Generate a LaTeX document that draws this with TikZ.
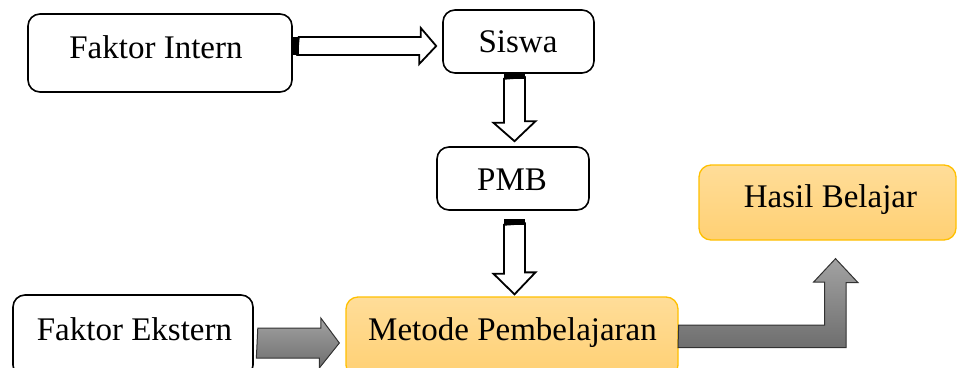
\documentclass[tikz,border=0pt]{standalone}
\usepackage{fontspec}
\setmainfont{Liberation Serif}
\usetikzlibrary{calc}
\definecolor{boxorange}{RGB}{255,192,0}
\definecolor{orangetop}{RGB}{255,221,153}
\definecolor{orangebot}{RGB}{255,208,115}
\definecolor{greytop}{RGB}{162,162,162}
\definecolor{greybot}{RGB}{110,110,110}
\definecolor{greyedge}{RGB}{50,50,50}

\begin{document}
\begin{tikzpicture}[x=1pt,y=-1pt,
  plainbox/.style={draw=black, line width=1.6pt, rounded corners=12pt, fill=white, inner sep=0pt},
  goldbox/.style={draw=boxorange, line width=1.3pt, rounded corners=12pt, top color=orangetop, bottom color=orangebot, inner sep=0pt},
  lbl/.style={font=\fontsize{33}{40}\selectfont, anchor=base, inner sep=0pt},
  hollowarrow/.style={draw=black, line width=1.8pt, fill=white, line join=miter},
  tabfill/.style={fill=black},
  greyarrow/.style={draw=greyedge, line width=1pt, top color=greytop, bottom color=greybot, line join=miter}]

  % canvas
  \path[use as bounding box, fill=white] (0,0) rectangle (958,367);
  \clip (0,0) rectangle (958,367);

  % boxes
  \node[plainbox, minimum width=264pt, minimum height=78pt] (intern) at (160,53) {};
  \node[plainbox, minimum width=151pt, minimum height=63pt] (siswa) at (518.5,41.5) {};
  \node[plainbox, minimum width=152pt, minimum height=63pt] (pmb) at (513,178.5) {};
  \node[plainbox, minimum width=240pt, minimum height=82pt] (ekstern) at (133,336) {};
  \node[goldbox, minimum width=332pt, minimum height=80pt] (metode) at (512,337) {};
  \node[goldbox, minimum width=257pt, minimum height=75pt] (hasil) at (827.5,202.5) {};

  % labels
  \node[lbl] (internlbl) at (156,58) {Faktor Intern};
  \node[lbl] (siswalbl) at (518,52) {Siswa};
  \node[lbl] (pmblbl) at (512,190) {PMB};
  \node[lbl] (eksternlbl) at (134.5,340) {Faktor Ekstern};
  \node[lbl] (metodelbl) at (512.5,340) {Metode Pembelajaran};
  \node[lbl] (hasillbl) at (830.5,207) {Hasil Belajar};

  % Faktor Intern -> Siswa
  \coordinate (i1) at ($(intern.east)+(0,-7)$);
  \coordinate (i2) at ($(siswa.west)+(-6,4.5)$);
  \draw[hollowarrow] (i1) ++(6,-9) -- ++(122,0) -- ++(0,-9) -- (i2) -- ++(-17,18) -- ++(0,-9) -- ++(-122,0) -- cycle;
  \fill[tabfill] (i1) ++(0,-9) rectangle ++(6,18);

  % Siswa -> PMB
  \coordinate (s1) at ($(siswa.south)+(-4,0)$);
  \coordinate (s2) at ($(pmb.north)+(1.5,-5)$);
  \draw[hollowarrow] (s1) ++(-10.5,5) -- ++(0,44) -- ++(-10.5,0) -- (s2) -- ++(21,-20) -- ++(-10.5,0) -- ++(0,-44) -- cycle;
  \fill[tabfill] (s1) ++(-10.5,0) rectangle ++(21,5);

  % PMB -> Metode Pembelajaran
  \coordinate (p1) at ($(pmb.south)+(1.5,8)$);
  \coordinate (p2) at ($(metode.north)+(2.5,-2)$);
  \draw[hollowarrow] (p1) ++(-10.5,6) -- ++(0,49) -- ++(-10.5,0) -- (p2) -- ++(21,-22) -- ++(-10.5,0) -- ++(0,-49) -- cycle;
  \fill[tabfill] (p1) ++(-10.5,0) rectangle ++(21,6);

  % Faktor Ekstern -> Metode Pembelajaran
  \coordinate (e1) at ($(ekstern.east)+(4,7)$);
  \coordinate (e2) at ($(metode.west)+(-6,6)$);
  \draw[greyarrow] (e1) ++(0,-15) -- ++(63,0) -- ++(0,-10) -- (e2) -- ++(-20,25) -- ++(0,-10) -- ++(-63,0) -- cycle;

  % Metode Pembelajaran -> Hasil Belajar (bent)
  \coordinate (m1) at ($(metode.east)+(0,-1)$);
  \coordinate (h1) at ($(hasil.south)+(8,18)$);
  \draw[greyarrow] (m1) ++(0,-11) -- ++(146,0) -- ++(0,-43) -- ++(-11,0) -- (h1) -- ++(22.5,24) -- ++(-12,0) -- ++(0,65) -- ++(-168,0) -- cycle;
\end{tikzpicture}
\end{document}
